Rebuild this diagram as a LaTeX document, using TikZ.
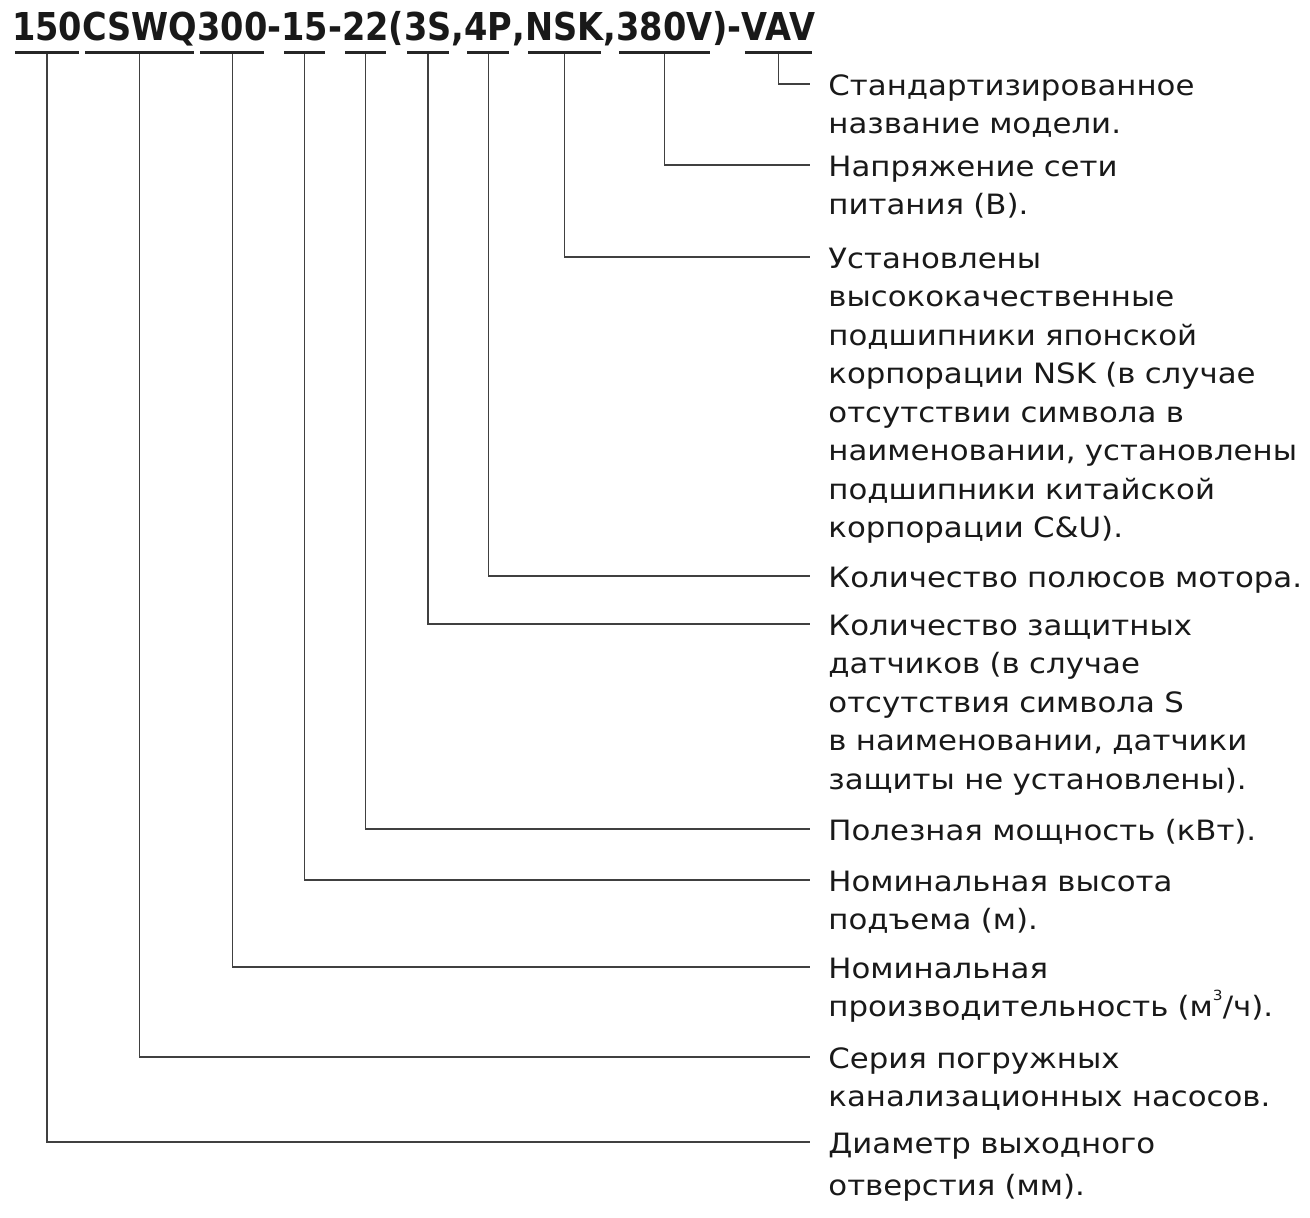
\documentclass[tikz,border=0pt]{standalone}
\usepackage{fontspec}
\setmainfont{DejaVu Sans}
\newfontfamily\codefont{DejaVu Sans}[FakeStretch=0.875]
\newfontfamily\descfont{DejaVu Sans}[FakeStretch=1.1]
\usetikzlibrary{calc}

\begin{document}
\begin{tikzpicture}[x=0.5pt, y=-0.5pt,
    code/.style={font=\codefont\bfseries\fontsize{19.2}{20}\selectfont, text=black!90,
                 inner sep=0pt, outer sep=0pt, anchor=base west},
    desc/.style={font=\descfont\fontsize{14}{19.25}\selectfont, text=black!90, text width=260pt,
                 align=left, inner sep=0pt, anchor=base west},
    uline/.style={draw=black!85, line width=1.5pt},
    wire/.style={draw=black!75, line width=0.65pt}
]
    \useasboundingbox (0,0) rectangle (1310,1217);

    % Model code, one node per part
    \node[code] (c150) at (12,40) {150};
    \node[code] (cSer) at (c150.base east) {CSWQ};
    \node[code] (c300) at (cSer.base east) {300};
    \node[code] (d1) at (c300.base east) {-};
    \node[code] (c15) at (d1.base east) {15};
    \node[code] (d2) at (c15.base east) {-};
    \node[code] (c22) at (d2.base east) {22};
    \node[code] (p1) at (c22.base east) {(};
    \node[code] (c3S) at (p1.base east) {3S};
    \node[code] (k1) at (c3S.base east) {,};
    \node[code] (c4P) at (k1.base east) {4P};
    \node[code] (k2) at (c4P.base east) {,};
    \node[code] (cNSK) at (k2.base east) {NSK};
    \node[code] (k3) at (cNSK.base east) {,};
    \node[code] (c380) at (k3.base east) {380V};
    \node[code] (p2) at (c380.base east) {)-};
    \node[code] (cVAV) at (p2.base east) {VAV};

    % Underlines below the parts
    \foreach \c in {c150,cSer,c300,c15,c22,c3S,c4P,cNSK,c380,cVAV}
        \draw[uline] ($(\c.base west)+(3,12)$) -- ($(\c.base east)+(-3,12)$);

    % Descriptions
    \node[desc] (dVAV) at (828,95) {Стандартизированное\\название модели.};
    \node[desc] (d380) at (828,176) {Напряжение сети\\питания (В).};
    \node[desc] (dNSK) at (828,268) {Установлены\\высококачественные\\подшипники японской\\корпорации NSK (в случае\\отсутствии символа в\\наименовании, установлены\\подшипники китайской\\корпорации C\&U).};
    \node[desc] (d4P) at (828,587) {Количество полюсов мотора.};
    \node[desc] (d3S) at (828,635) {Количество защитных\\датчиков (в случае\\отсутствия символа S\\в наименовании, датчики\\защиты не установлены).};
    \node[desc] (d22) at (828,840) {Полезная мощность (кВт).};
    \node[desc] (d15) at (828,891) {Номинальная высота\\подъема (м).};
    \node[desc] (d300) at (828,978) {Номинальная\\производительность (м\raisebox{1.05ex}{\fontsize{7}{7}\selectfont 3}/ч).};
    \node[desc] (dSer) at (828,1068) {Серия погружных\\канализационных насосов.};
    \node[desc, font=\descfont\fontsize{14}{21}\selectfont] (d150) at (828,1153) {Диаметр выходного\\отверстия (мм).};

    % Leaders from each part to its description
    \foreach \c/\d in {cVAV/dVAV, c380/d380, cNSK/dNSK, c4P/d4P, c3S/d3S,
                       c22/d22, c15/d15, c300/d300, cSer/dSer, c150/d150}
        \draw[wire] ($(\c.base)+(0,14)$) |- ($(\d.base west)+(-18,-11)$);
\end{tikzpicture}
\end{document}
